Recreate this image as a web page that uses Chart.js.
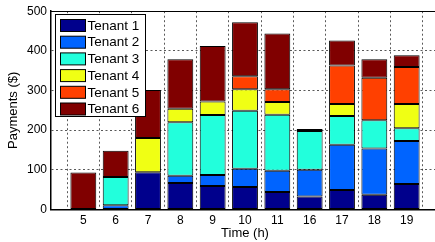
<!DOCTYPE html>
<html>
<head>
<meta charset="utf-8">
<script src="https://cdn.jsdelivr.net/npm/chart.js@4/dist/chart.umd.min.js"></script>
<style>
  html, body { margin: 0; padding: 0; background: #fff; overflow: hidden; }
  #wrap { position: relative; width: 445px; height: 242px; }
</style>
</head>
<body>
<div id="wrap"><canvas id="c" width="445" height="242"></canvas></div>
<script>
const hours = ['5', '6', '7', '8', '9', '10', '11', '16', '17', '18', '19'];
const seriesNames = ['Tenant 1', 'Tenant 2', 'Tenant 3', 'Tenant 4', 'Tenant 5', 'Tenant 6'];
const tenant1 = [0, 0, 94, 67, 59, 57, 44, 33, 49, 37, 64];
const tenant2 = [0, 11, 0, 18, 28, 46, 54, 67, 114, 117, 109];
const tenant3 = [0, 71, 0, 135, 151, 146, 141, 98, 73, 71, 32];
const tenant4 = [0, 0, 86, 34, 34, 54, 32, 5, 30, 0, 61];
const tenant5 = [0, 0, 0, 0, 0, 33, 32, 0, 97, 107, 93];
const tenant6 = [93, 66, 121, 125, 140, 136, 141, 0, 63, 47, 30];
const yTicks = [0, 100, 200, 300, 400, 500];

const colors = ['#00008C', '#0064FF', '#22FFDC', '#F0FF14', '#FF4000', '#800000'];
const allSeries = [tenant1, tenant2, tenant3, tenant4, tenant5, tenant6];

const FONT = '"Liberation Sans", Arial, Helvetica, sans-serif';

const datasets = allSeries.map((vals, i) => ({
  label: seriesNames[i],
  data: vals.map((v, j) => ({ x: j + 1, y: v })),
  backgroundColor: colors[i],
  borderColor: '#000',
  borderWidth: 1,
  borderSkipped: false,
  categoryPercentage: 1.0,
  barPercentage: 0.8
}));

const framePlugin = {
  id: 'frame',
  afterDraw(chart) {
    const ctx = chart.ctx;
    const a = chart.chartArea;
    ctx.save();
    // top box line
    ctx.strokeStyle = '#000';
    ctx.lineWidth = 1;
    ctx.beginPath();
    ctx.moveTo(a.left, Math.round(a.top) + 0.5);
    ctx.lineTo(a.right, Math.round(a.top) + 0.5);
    ctx.stroke();
    // legend inside plot
    const lx = 55.5, ly = 14.5, lw = 90, lh = 102;
    ctx.fillStyle = '#fff';
    ctx.fillRect(lx, ly, lw, lh);
    ctx.strokeRect(lx, ly, lw, lh);
    ctx.font = '13.5px ' + FONT;
    ctx.textBaseline = 'middle';
    ctx.textAlign = 'left';
    chart.data.datasets.forEach((ds, i) => {
      const sy = 19.5 + i * 16.7;
      ctx.fillStyle = ds.backgroundColor;
      ctx.fillRect(60.5, sy, 25, 12);
      ctx.strokeStyle = '#000';
      ctx.strokeRect(60.5, sy, 25, 12);
      ctx.fillStyle = '#000';
      ctx.fillText(ds.label, 87.5, sy + 6.5);
    });
    ctx.restore();
  }
};

new Chart(document.getElementById('c'), {
  type: 'bar',
  data: { datasets },
  options: {
    responsive: false,
    animation: false,
    devicePixelRatio: 1,
    layout: { padding: { left: 0, right: 6, top: 11, bottom: 0 } },
    plugins: { legend: { display: false }, tooltip: { enabled: false } },
    scales: {
      x: {
        type: 'linear',
        stacked: true,
        min: 0,
        max: 12,
        offset: false,
        afterFit: s => { s.height = 32.5; },
        afterBuildTicks: s => { s.ticks = Array.from({ length: 13 }, (_, k) => ({ value: k })); },
        ticks: {
          autoSkip: false,
          maxRotation: 0,
          padding: 4,
          color: '#000',
          font: { family: FONT, size: 12 },
          callback: v => (v >= 1 && v <= hours.length) ? hours[v - 1] : ''
        },
        grid: {
          drawTicks: false,
          color: 'rgba(0,0,0,0.65)',
          lineWidth: 1
        },
        border: { display: true, color: '#000', width: 1.5, dash: [2, 2.5] },
        title: {
          display: true,
          text: 'Time (h)',
          color: '#000',
          font: { family: FONT, size: 13 },
          padding: { top: 0, bottom: 1 }
        }
      },
      y: {
        stacked: true,
        min: 0,
        max: 500,
        afterFit: s => { s.width = 51; },
        afterBuildTicks: s => { s.ticks = yTicks.map(v => ({ value: v })); },
        ticks: {
          padding: 4,
          color: '#000',
          font: { family: FONT, size: 12 }
        },
        grid: {
          drawTicks: false,
          color: 'rgba(0,0,0,0.65)',
          lineWidth: 1
        },
        border: { display: true, color: '#000', width: 1.5, dash: [2, 2.5] },
        title: {
          display: true,
          text: 'Payments ($)',
          color: '#000',
          font: { family: FONT, size: 13 },
          padding: { top: 6, bottom: 0 }
        }
      }
    }
  },
  plugins: [framePlugin]
});
</script>
</body>
</html>
